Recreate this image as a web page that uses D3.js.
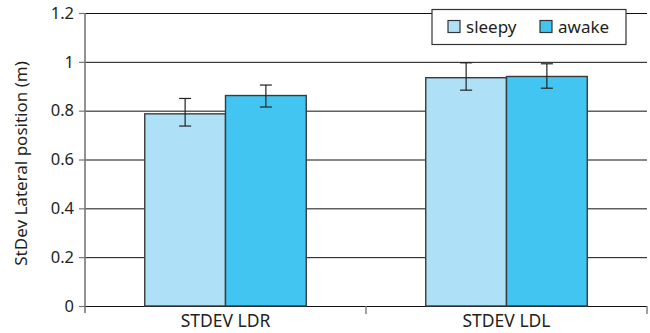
<!DOCTYPE html>
<html><head><meta charset="utf-8">
<script src="https://cdn.jsdelivr.net/npm/d3@7/dist/d3.min.js"></script>
<style>body{margin:0;background:#fff}svg{display:block}text{font-family:"Noto Sans",sans-serif;fill:#231f20}</style>
</head><body><svg id="c" width="650" height="333"></svg>
<script>
const categories = ["STDEV LDR", "STDEV LDL"];
const seriesNames = ["sleepy", "awake"];
const sleepyValues = [0.787, 0.935];
const awakeValues = [0.862, 0.940];
const sleepyErrLow = [0.737, 0.884];
const sleepyErrHigh = [0.850, 0.996];
const awakeErrLow = [0.815, 0.892];
const awakeErrHigh = [0.905, 0.992];
const yTicks = [0, 0.2, 0.4, 0.6, 0.8, 1, 1.2];
const colors = ["#aee0f8", "#42c6f1"];

const svg = d3.select("#c");
const L = 85, R = 647, T = 13, B = 306;
const y = d3.scaleLinear().domain([0, 1.2]).range([B, T]);
const x = d3.scaleBand().domain(categories).range([L, R]).paddingInner(0).paddingOuter(0);
const xs = d3.scaleBand().domain(seriesNames).range([0, x.bandwidth()]).paddingOuter(0.74).paddingInner(0);

// gridlines
svg.append("g").selectAll("line").data(yTicks).join("line")
  .attr("x1", L).attr("x2", R).attr("y1", d => y(d) + 0.5).attr("y2", d => y(d) + 0.5)
  .attr("stroke", "#111").attr("stroke-width", 1);

const series = [
  {name: "sleepy", vals: sleepyValues, lo: sleepyErrLow, hi: sleepyErrHigh},
  {name: "awake", vals: awakeValues, lo: awakeErrLow, hi: awakeErrHigh}
];
series.forEach((s, si) => {
  const g = svg.append("g");
  g.selectAll("rect").data(categories).join("rect")
    .attr("x", c => x(c) + xs(s.name))
    .attr("y", (c, i) => y(s.vals[i]))
    .attr("width", xs.bandwidth())
    .attr("height", (c, i) => y(0) - y(s.vals[i]))
    .attr("fill", colors[si]).attr("stroke", "#3a3a3a").attr("stroke-width", 1.4);
});
series.forEach((s) => {
  const g = svg.append("g").attr("stroke", "#222").attr("stroke-width", 1.2);
  categories.forEach((c, i) => {
    const cx = x(c) + xs(s.name) + xs.bandwidth() / 2;
    g.append("line").attr("x1", cx).attr("x2", cx).attr("y1", y(s.hi[i])).attr("y2", y(s.lo[i]));
    g.append("line").attr("x1", cx - 6).attr("x2", cx + 6).attr("y1", y(s.hi[i])).attr("y2", y(s.hi[i]));
    g.append("line").attr("x1", cx - 6).attr("x2", cx + 6).attr("y1", y(s.lo[i])).attr("y2", y(s.lo[i]));
  });
});

// y axis
const yAxis = d3.axisLeft(y).tickValues(yTicks).tickSize(6).tickPadding(5).tickFormat(d3.format("~g"));
const ga = svg.append("g").attr("transform", `translate(${L},0)`).call(yAxis);
ga.select(".domain").remove();
ga.selectAll(".tick line").attr("stroke", "#777").attr("stroke-width", 1.2);
ga.selectAll("text").style("font-size", "16.5px").attr("fill", "#231f20");
svg.append("line").attr("x1", L).attr("x2", L).attr("y1", T).attr("y2", B + 7)
  .attr("stroke", "#777").attr("stroke-width", 1.6);

// x axis
const xAxis = d3.axisBottom(x).tickSize(0).tickPadding(9);
const gx = svg.append("g").attr("transform", `translate(0,${B})`).call(xAxis);
gx.select(".domain").remove();
gx.selectAll("text").style("font-size", "17.5px").attr("fill", "#231f20");
const bounds = [x(categories[0]) + x.bandwidth(), R];
svg.append("g").selectAll("line").data(bounds).join("line")
  .attr("x1", d => d).attr("x2", d => d).attr("y1", B).attr("y2", B + 8)
  .attr("stroke", "#777").attr("stroke-width", 1.4);

// y label
svg.append("text").attr("transform", `translate(27,${(T + B) / 2 + 4}) rotate(-90)`)
  .attr("text-anchor", "middle").style("font-size", "17px").text("StDev Lateral position (m)");

// legend
const lg = svg.append("g");
lg.append("rect").attr("x", 432).attr("y", 9.5).attr("width", 194).attr("height", 35)
  .attr("fill", "#fff").attr("stroke", "#333").attr("stroke-width", 1.2);
const lx = [448, 540];
seriesNames.forEach((n, i) => {
  lg.append("rect").attr("x", lx[i]).attr("y", 20.5).attr("width", 12).attr("height", 12)
    .attr("fill", colors[i]).attr("stroke", "#333").attr("stroke-width", 1.2);
  lg.append("text").attr("x", lx[i] + 18).attr("y", 32.5).style("font-size", "17px").text(n);
});
</script></body></html>
